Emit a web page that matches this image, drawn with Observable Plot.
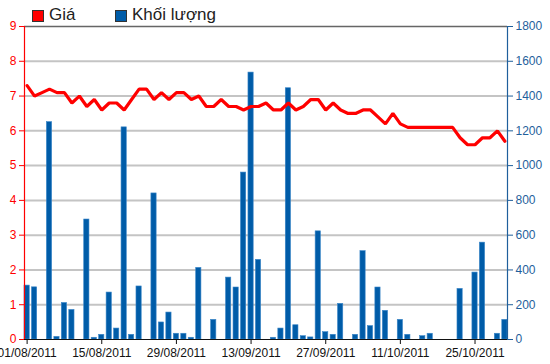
<!DOCTYPE html>
<html>
<head>
<meta charset="utf-8">
<script src="https://cdn.jsdelivr.net/npm/d3@7"></script>
<script src="https://cdn.jsdelivr.net/npm/@observablehq/plot@0.6"></script>
<style>
  body { margin: 0; background: #fff; font-family: "Liberation Sans", Arial, sans-serif; }
  #wrap { position: relative; width: 550px; height: 364px; }
  #legend { position: absolute; left: 0; top: 0; height: 24px; width: 300px; font-size: 17px; color: #222; }
  .sw { position: absolute; top: 10px; width: 10px; height: 10px; border: 1px solid #333; }
  .lt { position: absolute; top: 5px; line-height: 20px; }
</style>
</head>
<body>
<div id="wrap">
<div id="chart"></div>
<div id="legend">
  <div class="sw" style="left:32px;background:#ff0000"></div><div class="lt" style="left:49px">Giá</div>
  <div class="sw" style="left:115px;background:#005ca8"></div><div class="lt" style="left:132px">Khối lượng</div>
</div>
</div>
<script>
const dates = [
  "01/08/2011","02/08/2011","03/08/2011","04/08/2011","05/08/2011","08/08/2011","09/08/2011","10/08/2011","11/08/2011","12/08/2011",
  "15/08/2011","16/08/2011","17/08/2011","18/08/2011","19/08/2011","22/08/2011","23/08/2011","24/08/2011","25/08/2011","26/08/2011",
  "29/08/2011","30/08/2011","31/08/2011","01/09/2011","05/09/2011","06/09/2011","07/09/2011","08/09/2011","09/09/2011","12/09/2011",
  "13/09/2011","14/09/2011","15/09/2011","16/09/2011","19/09/2011","20/09/2011","21/09/2011","22/09/2011","23/09/2011","26/09/2011",
  "27/09/2011","28/09/2011","29/09/2011","30/09/2011","03/10/2011","04/10/2011","05/10/2011","06/10/2011","07/10/2011","10/10/2011",
  "11/10/2011","12/10/2011","13/10/2011","14/10/2011","17/10/2011","18/10/2011","19/10/2011","20/10/2011","21/10/2011","24/10/2011",
  "25/10/2011","26/10/2011","27/10/2011","28/10/2011","31/10/2011"
];
const prices = [
  7.3,7.0,7.1,7.2,7.1,7.1,6.8,7.0,6.7,6.9,
  6.6,6.8,6.8,6.6,6.9,7.2,7.2,6.9,7.1,6.9,
  7.1,7.1,6.9,7.0,6.7,6.7,6.9,6.7,6.7,6.6,
  6.7,6.7,6.8,6.6,6.6,6.8,6.6,6.7,6.9,6.9,
  6.6,6.8,6.6,6.5,6.5,6.6,6.6,6.4,6.2,6.5,
  6.2,6.1,6.1,6.1,6.1,6.1,6.1,6.1,5.8,5.6,
  5.6,5.8,5.8,6.0,5.7
];
const volumes = [
  310,300,0,1250,15,210,170,0,690,10,
  27,270,63,1220,27,305,0,840,98,155,
  33,33,10,412,0,113,0,356,299,960,
  1535,458,0,10,63,1445,82,19,12,622,
  42,27,205,0,27,508,77,299,165,0,
  113,27,0,19,33,0,0,0,291,0,
  385,557,0,33,113
];
const priceTicks = [0,1,2,3,4,5,6,7,8,9];
const volumeTicks = [0,200,400,600,800,1000,1200,1400,1600,1800];
const dateTickEvery = 10;

const ratio = 200; // volume units per price unit (1800 / 9)
const data = dates.map((d, i) => ({date: d, price: prices[i], volume: volumes[i]}));
const xTicks = dates.filter((d, i) => i % dateTickEvery === 0);

const chart = Plot.plot({
  width: 550,
  height: 364,
  marginLeft: 24,
  marginRight: 43,
  marginTop: 26,
  marginBottom: 25,
  style: {fontFamily: "'Liberation Sans', Arial, sans-serif", fontSize: "12px", background: "#fff"},
  x: {type: "band", domain: dates, paddingInner: 0.3, paddingOuter: 0, axis: null},
  y: {domain: [0, 1800], axis: null},
  marks: [
    Plot.gridY(volumeTicks.slice(1, -1), {stroke: "#c4c4c4", strokeWidth: 2, strokeOpacity: 1}),
    Plot.ruleY([1800], {stroke: "#666", strokeWidth: 1.5}),
    Plot.barY(data, {x: "date", y: "volume", fill: "#005ca8", stroke: "#3a86c8", strokeWidth: 0.6}),
    Plot.lineY(data, {x: "date", y: d => d.price * ratio, stroke: "#ff0000", strokeWidth: 3.2, strokeLinejoin: "miter"}),
    Plot.axisY(priceTicks.map(p => p * ratio), {anchor: "left", tickFormat: d => String(d / ratio), color: "#ff0000", tickSize: 5, tickPadding: 3, label: null}),
    Plot.axisY(volumeTicks, {anchor: "right", tickFormat: d => String(d), color: "#1f5f9c", tickSize: 5, tickPadding: 3, label: null}),
    Plot.axisX(xTicks, {anchor: "bottom", color: "#111", tickSize: 5, tickPadding: 4, label: null}),
    Plot.frame({anchor: "left", stroke: "#ff0000", strokeWidth: 1.2}),
    Plot.frame({anchor: "right", stroke: "#1f5f9c", strokeWidth: 1.2}),
    Plot.ruleY([0], {stroke: "#111", strokeWidth: 1.2})
  ]
});
document.getElementById("chart").appendChild(chart);
</script>
</body>
</html>
